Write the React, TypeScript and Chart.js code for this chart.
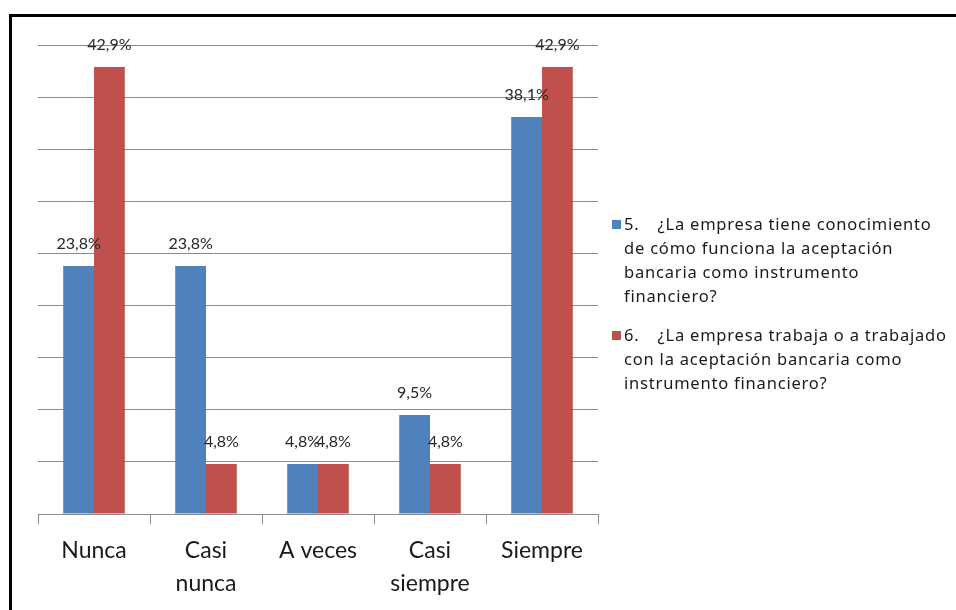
import React, { useEffect, useRef } from "react";
import { Chart, registerables } from "chart.js";

Chart.register(...registerables);

const categories: (string | string[])[] = [
  "Nunca",
  ["Casi", "nunca"],
  "A veces",
  ["Casi", "siempre"],
  "Siempre",
];

const conoceValues = [23.8, 23.8, 4.8, 9.5, 38.1];
const trabajaValues = [42.9, 4.8, 4.8, 4.8, 42.9];

const seriesNumbers = ["5.", "6."];
// Legend captions, one entry per wrapped line
const seriesTitleLines = [
  [
    "¿La empresa tiene conocimiento",
    "de cómo funciona la aceptación",
    "bancaria como instrumento",
    "financiero?",
  ],
  [
    "¿La empresa trabaja o a trabajado",
    "con la aceptación bancaria como",
    "instrumento financiero?",
  ],
];
const seriesColors = ["#4F81BD", "#C0504D"];

const FONT = "Lato, 'Noto Sans', sans-serif";
const LEGEND_FONT = "'Noto Sans', 'Open Sans', sans-serif";

const valueLabels = {
  id: "valueLabels",
  afterDatasetsDraw(chart: Chart) {
    const { ctx } = chart;
    ctx.save();
    ctx.font = `16px ${FONT}`;
    ctx.fillStyle = "#262626";
    ctx.textAlign = "center";
    ctx.textBaseline = "middle";
    chart.data.datasets.forEach((ds, di) => {
      const meta = chart.getDatasetMeta(di);
      meta.data.forEach((bar: any, i: number) => {
        const v = ds.data[i] as number;
        const text = v.toFixed(1).replace(".", ",") + "%";
        ctx.fillText(text, bar.x, bar.y - 22);
      });
    });
    ctx.restore();
  },
};

export default function App() {
  const canvasRef = useRef<HTMLCanvasElement | null>(null);

  useEffect(() => {
    if (!canvasRef.current) return;
    const chart = new Chart(canvasRef.current, {
      type: "bar",
      data: {
        labels: categories,
        datasets: [
          {
            label: seriesNumbers[0] + " " + seriesTitleLines[0].join(" "),
            data: conoceValues,
            backgroundColor: seriesColors[0],
            categoryPercentage: 0.55,
            barPercentage: 1,
          },
          {
            label: seriesNumbers[1] + " " + seriesTitleLines[1].join(" "),
            data: trabajaValues,
            backgroundColor: seriesColors[1],
            categoryPercentage: 0.55,
            barPercentage: 1,
          },
        ],
      },
      options: {
        animation: false,
        responsive: false,
        maintainAspectRatio: false,
        layout: { padding: { left: 38, top: 45, right: 358, bottom: 0 } },
        plugins: {
          legend: { display: false },
          tooltip: { enabled: false },
        },
        scales: {
          x: {
            grid: {
              drawOnChartArea: false,
              color: "#8C8C8C",
              tickLength: 10,
              offset: true,
            },
            border: { color: "#8C8C8C" },
            ticks: {
              color: "#1A1A1A",
              font: { family: FONT, size: 23, lineHeight: 1.43 },
              padding: 10,
              maxRotation: 0,
              autoSkip: false,
            },
            afterFit: (scale: any) => {
              scale.height = 96;
            },
          },
          y: {
            min: 0,
            max: 45,
            ticks: { display: false, stepSize: 5 },
            grid: { color: "#8C8C8C", drawTicks: false },
            border: { display: false },
            afterFit: (scale: any) => {
              scale.width = 0;
            },
          },
        },
      },
      plugins: [valueLabels],
    });
    return () => chart.destroy();
  }, []);

  return (
    <div>
      <div
        style={{
          position: "absolute",
          left: 9,
          top: 14,
          width: 947,
          height: 596,
          borderTop: "3px solid #000",
          borderLeft: "3px solid #000",
        }}
      />
      <canvas
        ref={canvasRef}
        width={956}
        height={610}
        style={{ position: "absolute", left: 0, top: 0, width: 956, height: 610 }}
      />
      <div
        style={{
          position: "absolute",
          left: 612,
          top: 212,
          width: 344,
          fontFamily: LEGEND_FONT,
          fontSize: 16.5,
          letterSpacing: "0.8px",
          lineHeight: "24px",
          color: "#1A1A1A",
          fontVariantLigatures: "none",
          whiteSpace: "nowrap",
        }}
      >
        {seriesTitleLines.map((lines, i) => (
          <div key={i} style={{ display: "flex", marginBottom: 15 }}>
            <span
              style={{
                width: 9,
                height: 9,
                background: seriesColors[i],
                marginTop: 8,
                marginRight: 3,
                flex: "none",
              }}
            />
            <div>
              {lines.map((line, j) => (
                <div key={j}>
                  {j === 0 ? (
                    <>
                      {seriesNumbers[i]}
                      <span style={{ display: "inline-block", width: 18 }} />
                    </>
                  ) : null}
                  {line}
                </div>
              ))}
            </div>
          </div>
        ))}
      </div>
    </div>
  );
}
